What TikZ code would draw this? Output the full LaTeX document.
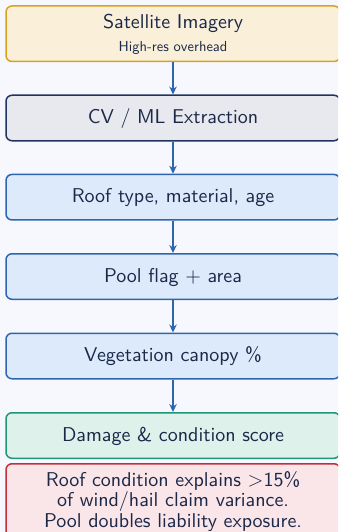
\documentclass[tikz,border=0pt]{standalone}
\usepackage{fontspec}
% the 10pt design of Latin Modern Sans, scaled up to every size
\setsansfont{lmsans10-regular.otf}
\usetikzlibrary{arrows.meta}
% palette
\definecolor{pagebg}{HTML}{F6F8FD}
\definecolor{inkc}{HTML}{1B2848}
\definecolor{goldfill}{HTML}{FAF0DA}
\definecolor{goldline}{HTML}{D9A21E}
\definecolor{greyfill}{HTML}{E7E9EE}
\definecolor{navyline}{HTML}{1F345E}
\definecolor{bluefill}{HTML}{DDEAFB}
\definecolor{blueline}{HTML}{2D66AE}
\definecolor{greenfill}{HTML}{DFF1EB}
\definecolor{greenline}{HTML}{1E9677}
\definecolor{redfill}{HTML}{FAE5E8}
\definecolor{redline}{HTML}{C22F3C}
\tikzset{
  stagebox/.style={draw, rectangle, rounded corners=6pt, line width=1.5pt,
    minimum width=334pt, minimum height=45.5pt, inner sep=0pt,
    text=inkc, font=\sffamily\fontsize{20}{21}\selectfont, text height=11.5pt, text depth=0pt},
  goldbox/.style={stagebox, fill=goldfill, draw=goldline},
  greybox/.style={stagebox, fill=greyfill, draw=navyline},
  bluebox/.style={stagebox, fill=bluefill, draw=blueline},
  greenbox/.style={stagebox, fill=greenfill, draw=greenline},
  redbox/.style={stagebox, fill=redfill, draw=redline},
  lbl/.style={inner sep=0pt, text=inkc, font=\sffamily\fontsize{20}{20.5}\selectfont},
  flow/.style={draw=blueline, line width=1.3pt, -{Stealth[length=8pt,width=7.5pt]}}
}
\begin{document}
\begin{tikzpicture}[x=1pt,y=1pt]
\useasboundingbox (0,0) rectangle (338,-532);
\clip (0,0) rectangle (338,-532);
\fill[pagebg] (0,0) rectangle (338,-532);

% pipeline stages
\node[goldbox, minimum height=55.5pt] (sat) at (173,-33.75) {};
\node[lbl, anchor=base] (satA) at (173,-28.3) {Satellite Imagery};
\node[lbl, anchor=base, font=\sffamily\fontsize{14.5}{16}\selectfont] (satB) at (173,-51.7) {High-res overhead};

\node[greybox]  (cv)    at (173,-118)   {CV / ML Extraction};
\node[bluebox]  (roof)  at (173,-197.2) {Roof type, material, age};
\node[bluebox]  (pool)  at (173,-276.5) {Pool flag + area};
\node[bluebox]  (veg)   at (173,-356)   {Vegetation canopy \%};
\node[greenbox] (score) at (173,-435.5) {Damage \& condition score};

% findings
\node[redbox, minimum height=84pt, anchor=north] (risk) at (173,-463) {};
\node[lbl, align=center, anchor=north] (riskT) at (173,-471)
  {Roof condition explains $>$15\%\\ of wind/hail claim variance.\\ Pool doubles liability exposure.};

% connectors
\draw[flow] (sat) -- (cv);
\draw[flow] (cv) -- (roof);
\draw[flow] (roof) -- (pool);
\draw[flow] (pool) -- (veg);
\draw[flow] (veg) -- (score);
\end{tikzpicture}
\end{document}
